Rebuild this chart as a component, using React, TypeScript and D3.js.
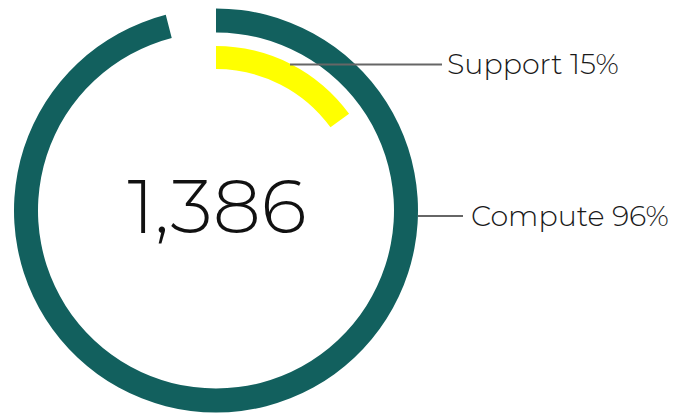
import React from "react";
import * as d3 from "d3";

const series = ["Compute", "Support"];
const percents = [96, 15];
const totalLabel = "1,386";
const colors = ["#12605E", "#FFFF00"];

const W = 677;
const H = 415;

export default function App() {
  const cx = 216;
  const cy = 210.5;
  const angle = d3.scaleLinear().domain([0, 100]).range([0, 2 * Math.PI]);
  const radii = [
    [178, 202],
    [141.5, 164.5],
  ];
  const arcs = percents.map((p, i) =>
    d3.arc()({
      innerRadius: radii[i][0],
      outerRadius: radii[i][1],
      startAngle: 0,
      endAngle: angle(p),
    } as any) as string
  );
  const font = "Montserrat, Lato, 'Open Sans', sans-serif";
  const labelY = [216, 64.5];
  const lineX = [
    [418, 463],
    [290, 442],
  ];
  const textX = [471, 447];
  return (
    <svg
      width={W}
      height={H}
      style={{ position: "absolute", left: 0, top: 0, display: "block" }}
    >
      <g transform={`translate(${cx},${cy})`}>
        {arcs.map((d, i) => (
          <path key={series[i]} d={d} fill={colors[i]} />
        ))}
      </g>
      {series.map((s, i) => (
        <g key={s}>
          <line
            x1={lineX[i][0]}
            x2={lineX[i][1]}
            y1={labelY[i]}
            y2={labelY[i]}
            stroke="#666"
            strokeWidth={2}
          />
          <text
            x={textX[i]}
            y={labelY[i]}
            dy="0.35em"
            fontFamily={font}
            fontWeight={300}
            fontSize={28.5}
            fill="#1a1a1a"
          >
            {`${s} ${percents[i]}%`}
          </text>
        </g>
      ))}
      <text
        x={cx + 1}
        y={233}
        textAnchor="middle"
        fontFamily={font}
        fontWeight={300}
        fontSize={76}
        fill="#111"
      >
        {totalLabel}
      </text>
    </svg>
  );
}
